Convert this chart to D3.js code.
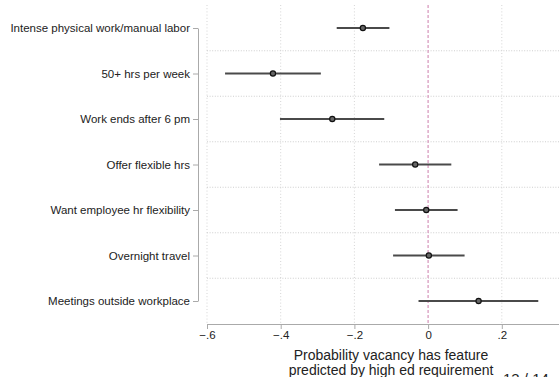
<!DOCTYPE html>
<html>
<head>
<meta charset="utf-8">
<script src="https://cdn.jsdelivr.net/npm/d3@7"></script>
<style>
  body { margin: 0; background: #fff; }
  svg { display: block; font-family: "Liberation Sans", Arial, sans-serif; }
</style>
</head>
<body>
<svg id="chart" width="559" height="377"></svg>
<script>
// coefficient plot values
var labels = ["Intense physical work/manual labor", "50+ hrs per week", "Work ends after 6 pm",
    "Offer flexible hrs", "Want employee hr flexibility", "Overnight travel", "Meetings outside workplace"];
var estimates = [-0.177, -0.421, -0.260, -0.035, -0.005, 0.002, 0.137];
var lower = [-0.248, -0.551, -0.402, -0.133, -0.090, -0.095, -0.026];
var upper = [-0.105, -0.291, -0.119, 0.063, 0.080, 0.099, 0.299];
var xTicks = [-0.6, -0.4, -0.2, 0, 0.2];

var svg = d3.select("#chart");
var data = labels.map(function (l, i) {
    return {label: l, est: estimates[i], lo: lower[i], hi: upper[i]};
});

var x = d3.scaleLinear().domain([-0.6, 0.4]).range([207, 575.5]);
var y = d3.scalePoint().domain(labels).range([28, 301]);
var step = y.step();

var fmt = function (v) {
    if (v === 0) return "0";
    var s = Math.abs(v).toFixed(1).replace(/^0/, "");
    return (v < 0 ? "\u2212" : "") + s;
};

// horizontal dotted separators between rows
var seps = labels.slice(1).map(function (l) { return y(l) - step / 2; });
svg.append("g").selectAll("line").data(seps).join("line")
    .attr("x1", 207).attr("x2", 559)
    .attr("y1", function (d) { return d; }).attr("y2", function (d) { return d; })
    .attr("stroke", "#c8c8c8").attr("stroke-width", 0.9)
    .attr("stroke-dasharray", "1,1.6");

// vertical dotted grid
svg.append("g").selectAll("line").data(xTicks.filter(function (t) { return t !== 0; })).join("line")
    .attr("x1", function (d) { return x(d); }).attr("x2", function (d) { return x(d); })
    .attr("y1", 5).attr("y2", 324)
    .attr("stroke", "#d0d0d0").attr("stroke-width", 0.9)
    .attr("stroke-dasharray", "1,2.2");

// zero reference line
svg.append("line")
    .attr("x1", x(0)).attr("x2", x(0))
    .attr("y1", 5).attr("y2", 324)
    .attr("stroke", "#d99cc0").attr("stroke-width", 1.3)
    .attr("stroke-dasharray", "3,2");

// x axis
var xAxis = svg.append("g")
    .attr("transform", "translate(0,324)")
    .call(d3.axisBottom(x).tickValues(xTicks).tickFormat(fmt).tickSize(5).tickSizeOuter(0));
xAxis.select(".domain").attr("stroke", "#aaa").attr("d", "M207,0.5H559");
xAxis.selectAll(".tick line").attr("stroke", "#aaa");
xAxis.selectAll(".tick text").attr("fill", "#222").attr("font-size", 11.5).attr("dy", "0.6em");

// y axis
var yAxis = svg.append("g")
    .attr("transform", "translate(198,0)")
    .call(d3.axisLeft(y).tickSize(5).tickSizeOuter(0).tickPadding(3));
yAxis.select(".domain").attr("stroke", "#aaa");
yAxis.selectAll(".tick line").attr("stroke", "#aaa");
yAxis.selectAll(".tick text").attr("fill", "#222").attr("font-size", 11.5);

// confidence intervals
svg.append("g").selectAll("line").data(data).join("line")
    .attr("x1", function (d) { return x(d.lo); }).attr("x2", function (d) { return x(d.hi); })
    .attr("y1", function (d) { return y(d.label); }).attr("y2", function (d) { return y(d.label); })
    .attr("stroke", "#4a4a4a").attr("stroke-width", 2);

// point estimates
svg.append("g").selectAll("circle").data(data).join("circle")
    .attr("cx", function (d) { return x(d.est); })
    .attr("cy", function (d) { return y(d.label); })
    .attr("r", 2.6)
    .attr("fill", "#666").attr("stroke", "#111").attr("stroke-width", 1.2);

// axis title
svg.append("text")
    .attr("x", 391).attr("y", 360)
    .attr("text-anchor", "middle").attr("font-size", 14).attr("fill", "#222")
    .text("Probability vacancy has feature");
svg.append("text")
    .attr("x", 391).attr("y", 375)
    .attr("text-anchor", "middle").attr("font-size", 14).attr("fill", "#222")
    .text("predicted by high ed requirement");

// slide number, cut at bottom edge
svg.append("text")
    .attr("x", 503).attr("y", 384)
    .attr("font-size", 15).attr("fill", "#222")
    .text("13 / 14");
</script>
</body>
</html>
